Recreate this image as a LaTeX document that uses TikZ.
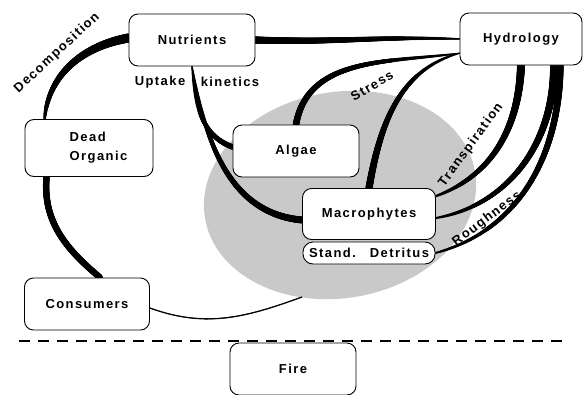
\documentclass[tikz,border=0pt]{standalone}
\usepackage{fontspec}
\setmainfont{Liberation Sans}[LetterSpace=11]
\usetikzlibrary{decorations.markings}

\pgfdeclarelayer{zone}
\pgfdeclarelayer{links}
\pgfsetlayers{zone,links,main}

\tikzset{
  box/.style={draw, line width=0.9pt, rounded corners=9pt, fill=white,
              minimum width=126pt, minimum height=52pt, inner sep=0pt},
  lbl/.style={inner sep=0pt},
  taper/.style 2 args={postaction={decorate},
    decoration={markings, mark=between positions 0 and 1 step 0.5pt with {
      \pgfmathsetmacro{\tpos}{\pgfkeysvalueof{/pgf/decoration/mark info/distance from start}/\pgfdecoratedpathlength}
      \pgfmathsetmacro{\rad}{#1>#2 ? #2+(#1-#2)*(1.001-\tpos)^0.6 : #1+(#2-#1)*(\tpos+0.001)^0.6}
      \fill (0,0) circle (\rad pt);}}}
}

\begin{document}
\begin{tikzpicture}[x=1pt, y=1pt, font=\fontsize{13}{15}\selectfont\bfseries]
  \useasboundingbox (0,0) rectangle (583,-394);
  \begin{pgfonlayer}{zone}
    \fill[black!21, rotate around={10:(340,-195)}] (340,-195) ellipse [x radius=137pt, y radius=103pt]; % shaded zone
  \end{pgfonlayer}
  % boxes
  \node[box] (nut) at (192,-40) {Nutrients};
  \node[box, minimum width=122pt] (hyd) at (521,-39) {Hydrology};
  \node[box, minimum width=128pt, minimum height=57pt] (dead) at (89,-148)
       {\hspace*{19pt}\begin{tabular}{@{}l@{}}Dead\\[4pt]Organic\end{tabular}};
  \node[box] (alg) at (296,-151) {Algae};
  \node[box, minimum width=133pt, minimum height=51pt] (mac) at (369,-214) {Macrophytes};
  \node[box, minimum width=132pt, minimum height=22pt, rounded corners=10pt] (det) at (369,-253)
       {Stand.\hspace{14pt}Detritus};
  \node[box, minimum width=125pt] (con) at (87,-304) {Consumers};
  \node[box] (fire) at (293,-369) {Fire};
  \coordinate (zone) at (302,-297);                  % edge of shaded zone
  % labels
  \node[lbl, rotate=43] (decomp) at (57,-53) {Decomposition};
  \node[lbl] (uptake) at (160,-82) {Uptake};
  \node[lbl] (kinetics) at (230,-82) {kinetics};
  \node[lbl, rotate=31] (stress) at (372,-86) {Stress};
  \node[lbl, rotate=54] (transp) at (471,-145) {Transpiration};
  \node[lbl, rotate=37] (rough) at (487,-219) {Roughness};
  % links
  \begin{pgfonlayer}{links}
    \path[taper={3.6}{0.6}] (nut.east) to[out=-2, in=178] (hyd.west);                 % nutrients - hydrology
    \path[taper={4.6}{1.2}] ([yshift=2pt]nut.west) to[out=190, in=85] ([xshift=20pt]dead.north west); % decomposition
    \path[taper={3.2}{3.2}] ([xshift=22pt]dead.south west) to[out=-95, in=140] ([xshift=76pt]con.north west);
    \path[taper={0.7}{0.7}] ([yshift=-4pt]con.east) to[out=-20, in=200] (zone);       % consumers
    \path[taper={0.5}{2.8}] (nut.south) to[out=-85, in=160] ([yshift=4pt]alg.west);    % uptake
    \path[taper={0.6}{3.5}] (nut.south) to[out=-80, in=175] ([yshift=-6pt]mac.west);
    \path[taper={0.5}{3.3}] (hyd.193) to[out=188, in=80] (alg.north);                 % stress
    \path[taper={0.6}{3.6}] (hyd.193) to[out=195, in=80] (mac.north);
    \path[taper={4.0}{1.0}] (hyd.south) to[out=-92, in=20] ([yshift=-8pt]mac.north east); % transpiration
    \path[taper={4.0}{0.8}] ([xshift=33pt]hyd.south) to[out=-90, in=10] ([yshift=-4pt]mac.east);
    \path[taper={3.6}{0.8}] ([xshift=39pt]hyd.south) to[out=-90, in=15] (det.east);    % roughness
  \end{pgfonlayer}
  \draw[line width=2.6pt, dash pattern=on 11pt off 8pt] (19,-341) -- (566,-341);   % fire line
\end{tikzpicture}
\end{document}
